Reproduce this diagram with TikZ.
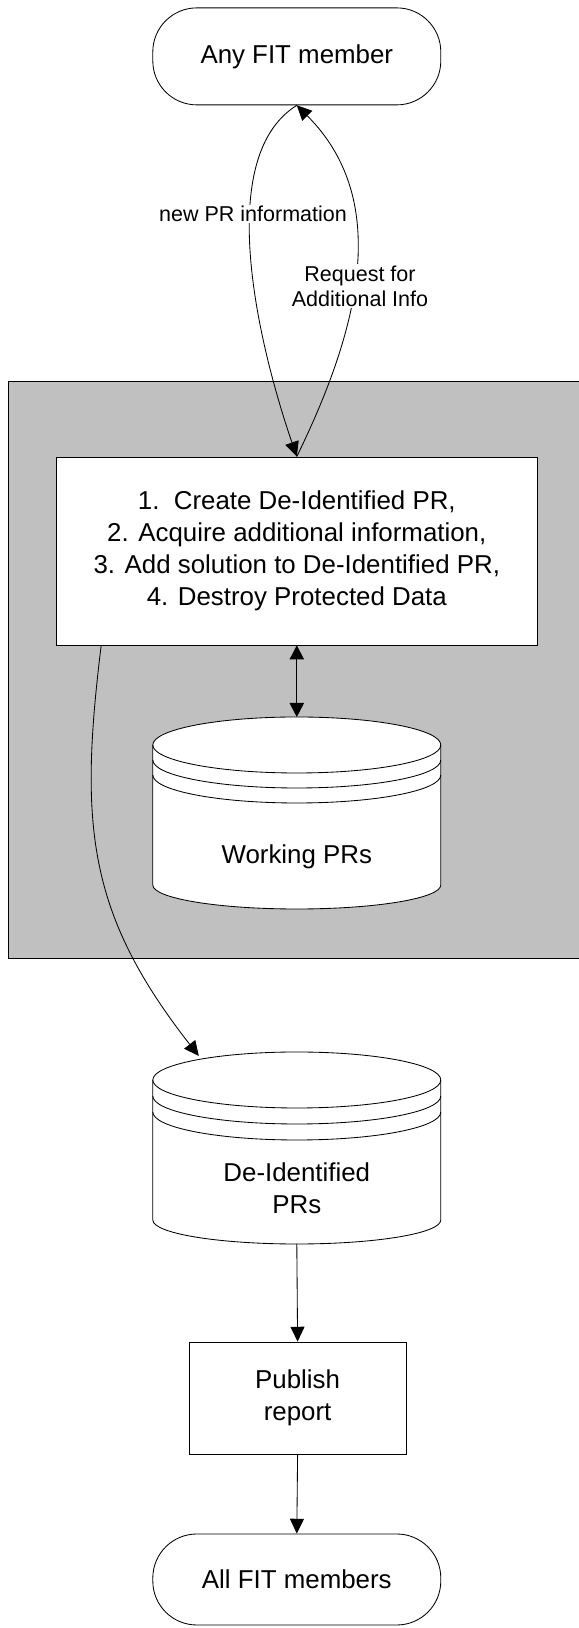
\documentclass[tikz,border=0pt]{standalone}
\usepackage{fontspec}
\setmainfont{Liberation Sans}
\usetikzlibrary{positioning}
\usetikzlibrary{arrows.meta}

\definecolor{panel}{RGB}{192,192,192}

\tikzset{
  term/.style={draw, rounded corners=1.1cm, minimum width=7.2cm, font=\fontsize{18.4}{22.8}\selectfont},
  proc/.style={draw, fill=white, align=center, font=\fontsize{18.4}{22.8}\selectfont},
  store/.style={minimum width=7.2cm, minimum height=4.8cm, inner sep=0pt, outer sep=0pt},
  txt/.style={align=center, font=\fontsize{18.4}{22.8}\selectfont},
  lbl/.style={fill=white, inner sep=1pt, align=center, font=\fontsize{15.3}{17.8}\selectfont},
  arr/.style={-{Triangle[length=0.37cm,width=0.35cm]}},
  dblarr/.style={{Triangle[length=0.35cm,width=0.36cm]}-{Triangle[length=0.35cm,width=0.36cm]}},
}

\begin{document}
\begin{tikzpicture}[line width=0.6pt]
\useasboundingbox (0,0) rectangle (14.475,40.7);

% shaded area
\filldraw[fill=panel] (15,16.75) -- (0.2,16.75) -- (0.2,31.175) -- (15,31.175);

\node[term, minimum height=2.425cm] (any) at (7.42,39.29) {Any FIT member};
\node[proc, minimum width=12.01cm, minimum height=4.7cm] (steps) at (7.42,26.925) {1.\ \ Create De-Identified PR,\\2. Acquire additional information,\\3. Add solution to De-Identified PR,\\4. Destroy Protected Data};

% working store
\node[store] (work) at (7.42,20.375) {};
\draw[fill=white] ([yshift=-0.7cm]work.north west) arc[start angle=180, end angle=0, x radius=3.6cm, y radius=0.7cm] -- ([yshift=0.6cm]work.south east) arc[start angle=0, end angle=-180, x radius=3.6cm, y radius=0.6cm] -- cycle;
\draw ([yshift=-0.7cm]work.north west) arc[start angle=180, end angle=360, x radius=3.6cm, y radius=0.7cm];
\draw ([yshift=-1.075cm]work.north west) arc[start angle=180, end angle=360, x radius=3.6cm, y radius=0.7cm];
\draw ([yshift=-1.45cm]work.north west) arc[start angle=180, end angle=360, x radius=3.6cm, y radius=0.7cm];
\node[txt] (worktext) at ([yshift=-1.1cm]work.center) {Working PRs};

% de-identified store
\node[store] (deid) at (7.42,12.0) {};
\draw[fill=white] ([yshift=-0.7cm]deid.north west) arc[start angle=180, end angle=0, x radius=3.6cm, y radius=0.7cm] -- ([yshift=0.6cm]deid.south east) arc[start angle=0, end angle=-180, x radius=3.6cm, y radius=0.6cm] -- cycle;
\draw ([yshift=-0.7cm]deid.north west) arc[start angle=180, end angle=360, x radius=3.6cm, y radius=0.7cm];
\draw ([yshift=-1.1cm]deid.north west) arc[start angle=180, end angle=360, x radius=3.6cm, y radius=0.7cm];
\draw ([yshift=-1.5cm]deid.north west) arc[start angle=180, end angle=360, x radius=3.6cm, y radius=0.7cm];
\node[txt] (deidtext) at ([yshift=-1.0cm]deid.center) {De-Identified\\PRs};

\node[proc, minimum width=5.43cm, minimum height=2.8cm] (publish) at (7.44,5.75) {Publish\\report};
\node[term, minimum height=2.275cm] (all) at (7.42,1.2125) {All FIT members};

% connectors
\draw[arr] (any.south) to[out=212, in=109, looseness=0.75] (steps.north);
\draw[arr] (steps.north) to[out=64, in=-45] (any.south);
\draw[dblarr] (steps.south) -- (work.north);
\draw[arr] ([xshift=1.125cm]steps.south west) to[out=263, in=128, looseness=1.1] ([xshift=-2.45cm,yshift=-0.1cm]deid.north);
\draw[arr] (deid.south) -- (publish.north);
\draw[arr] (publish.south) -- (all.north);

\node[lbl] (newlbl) at (6.325,35.35) {new PR information};
\node[lbl] (reqlbl) at (9.0,33.55) {Request for\\Additional Info};
\end{tikzpicture}
\end{document}
